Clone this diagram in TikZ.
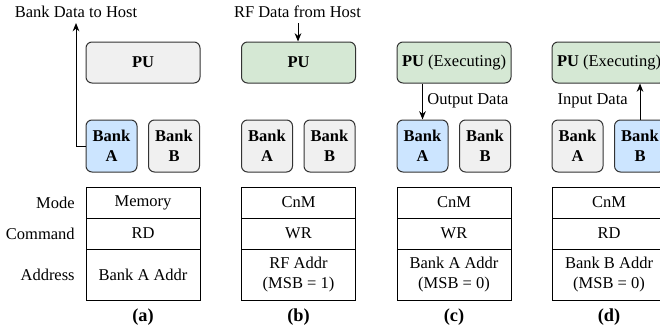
\documentclass[tikz,border=0pt]{standalone}
\usepackage{fontspec}
\setmainfont{Liberation Serif}
\usetikzlibrary{arrows.meta}
\definecolor{edge}{HTML}{333333}
\definecolor{grayfill}{HTML}{F0F0F0}
\definecolor{greenfill}{HTML}{D5E8D4}
\definecolor{bluefill}{HTML}{CCE5FF}

\begin{document}
\begin{tikzpicture}[x=0.6pt,y=-0.6pt,
  font=\fontsize{9.9}{12}\selectfont,
  block/.style={draw=edge, line width=0.6pt, rounded corners=3.6pt, align=center, inner sep=0pt},
  pubox/.style={block, minimum width=68.4pt, minimum height=24.6pt},
  bankbox/.style={block, minimum width=30.6pt, minimum height=31.2pt,
    font=\fontsize{9.9}{12}\selectfont\bfseries},
  cell/.style={draw, line width=0.6pt, minimum width=68.4pt, inner sep=0pt, align=center},
  shortrow/.style={cell, minimum height=18.6pt},
  tallrow/.style={cell, minimum height=30.6pt},
  flow/.style={draw, line width=0.6pt, -{Stealth[length=5pt,width=4pt]}},
  rowlabel/.style={anchor=east, inner sep=0pt},
  caption/.style={font=\fontsize{11}{13}\selectfont\bfseries}]
\useasboundingbox (0,0) rectangle (660,331);
\clip (0,0) rectangle (660,331);

% four panels: processing unit, two banks and the command table
\foreach \p/\dx/\pufill/\putext/\afill/\bfill/\mode/\cmd/\addr in {
  a/0/grayfill/{\textbf{PU}}/bluefill/grayfill/Memory/RD/{Bank A Addr},
  b/155.5/greenfill/{\textbf{PU}}/grayfill/grayfill/CnM/WR/{RF Addr\\(MSB = 1)},
  c/311/greenfill/{\textbf{PU} (Executing)}/bluefill/grayfill/CnM/WR/{Bank A Addr\\(MSB = 0)},
  d/466/greenfill/{\textbf{PU} (Executing)}/grayfill/bluefill/CnM/RD/{Bank B Addr\\(MSB = 0)}}{
  \node[pubox, fill=\pufill] (pu-\p) at (143+\dx,62.5) {\putext};
  \node[bankbox, fill=\afill] (bankA-\p) at (111.5+\dx,146) {Bank\\A};
  \node[bankbox, fill=\bfill] (bankB-\p) at (174+\dx,146) {Bank\\B};
  \node[shortrow] (mode-\p) at (143+\dx,202.5) {\mode};
  \node[shortrow] (cmd-\p) at (143+\dx,233.5) {\cmd};
  \node[tallrow] (addr-\p) at (143+\dx,274.5) {\addr};
  \node[caption] (cap-\p) at (143+\dx,317) {(\p)};
}

% row labels
\node[rowlabel] (lmode) at (75,202.5) {Mode};
\node[rowlabel] (lcmd) at (75,233.5) {Command};
\node[rowlabel] (laddr) at (75,274.5) {Address};

% (a) bank data read out to the host
\node[anchor=base, inner sep=0pt] (txtA) at (76,17) {Bank Data to Host};
\coordinate (hostA) at (76,23);
\draw[flow] (bankA-a.west) -| (hostA);

% (b) register file data written from the host
\node[anchor=base, inner sep=0pt] (txtB) at (297.5,17) {RF Data from Host};
\coordinate (hostB) at (298,23);
\draw[flow] (hostB) -- (pu-b.north -| hostB);

% (c) PU writes output data into bank A
\draw[flow] (pu-c.south -| bankA-c.north) -- (bankA-c.north);
\node[anchor=west, inner sep=0pt] (outc) at (427,101) {Output Data};

% (d) PU reads input data from bank B
\draw[flow] (bankB-d.north) -- (pu-d.south -| bankB-d.north);
\node[anchor=east, inner sep=0pt] (ind) at (628,101) {Input Data};
\end{tikzpicture}
\end{document}
